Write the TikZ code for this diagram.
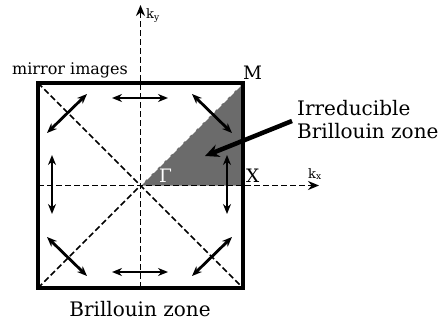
\documentclass[tikz,border=0pt]{standalone}
\usepackage{fontspec}
\setmainfont{DejaVu Serif}
\usetikzlibrary{arrows.meta}
\definecolor{ibz}{RGB}{107,107,107}
\begin{document}
\begin{tikzpicture}[x=1pt,y=-1pt,
  axis/.style={line width=1.8pt, dash pattern=on 6pt off 3pt},
  diag/.style={line width=1.6pt, dash pattern=on 6pt off 3pt},
  dbl/.style={{Stealth[length=10pt,width=8pt]}-{Stealth[length=10pt,width=8pt]}, line width=2.8pt},
  callout/.style={line width=4.5pt, -{Stealth[length=14pt,width=13pt]}},
  lbl/.style={inner sep=0pt, font=\fontsize{16}{19}\selectfont},
  big/.style={inner sep=0pt, font=\fontsize{20}{23}\selectfont},
  sub/.style={inner sep=0pt, font=\fontsize{13}{15}\selectfont}]
\useasboundingbox (0,0) rectangle (438,323);
% corners and points
\coordinate (BL) at (38,288);
\coordinate (BR) at (243,288);
\coordinate (TR) at (243,83);
\coordinate (TL) at (38,83);
\coordinate (G) at (140.5,185.5);
\coordinate (X) at (243,185.5);
\coordinate (M) at (243,83);
\coordinate (kxs) at (38,185.5);
\coordinate (kxe) at (319,185.5);
\coordinate (kys) at (140.5,288);
\coordinate (kye) at (140.5,5);
% irreducible zone
\fill[ibz] (G) -- (X) -- (M) -- cycle;
% diagonals
\draw[diag] (TL) -- (BR);
\draw[diag] (BL) -- (G);
\draw[diag, white, line width=1.2pt] (G) -- (M);
% axes
\draw[axis, -{Stealth[length=11pt,width=9pt]}] (kxs) -- (kxe);
\draw[axis, -{Stealth[length=11pt,width=9pt]}] (kys) -- (kye);
% border
\draw[line width=4pt] (BL) rectangle (TR);
% mirror arrows
\coordinate (a1) at (112,98); \coordinate (a2) at (168,98);
\coordinate (b1) at (112,272); \coordinate (b2) at (168,272);
\coordinate (c1) at (52,155); \coordinate (c2) at (52,214);
\coordinate (d1) at (227,155); \coordinate (d2) at (227,214);
\coordinate (e1) at (47,133); \coordinate (e2) at (87,94);
\coordinate (f1) at (192,94); \coordinate (f2) at (232,133);
\coordinate (g1) at (47,237); \coordinate (g2) at (87,276);
\coordinate (h1) at (192,276); \coordinate (h2) at (232,237);
\draw[dbl] (a1) -- (a2);
\draw[dbl] (b1) -- (b2);
\draw[dbl] (c1) -- (c2);
\draw[dbl] (d1) -- (d2);
\draw[dbl] (e1) -- (e2);
\draw[dbl] (f1) -- (f2);
\draw[dbl] (g1) -- (g2);
\draw[dbl] (h1) -- (h2);
% labels
\node[lbl, anchor=base west] (mir) at (12,75) {mirror images};
\node[big, anchor=base west, font=\fontsize{18.5}{22}\selectfont] (Ml) at (243,80) {M};
\node[big, anchor=base west, font=\fontsize{18.5}{22}\selectfont] (Xl) at (246,182) {X};
\node[big, anchor=base west, white, font=\fontsize{18.5}{22}\selectfont] (Gl) at (159,182) {Γ};
\node[sub, anchor=base west] (kx) at (308,178) {k$_{\mathrm{x}}$};
\node[sub, anchor=base west] (ky) at (146,19) {k$_{\mathrm{y}}$};
\node[big, anchor=north west, align=left] (irr) at (297,100) {Irreducible\\Brillouin zone};
\node[big, anchor=base] (bz) at (140,316) {Brillouin zone};
% callout
\coordinate (cs) at (292,121);
\coordinate (ce) at (205,156);
\draw[callout] (cs) -- (ce);
\end{tikzpicture}
\end{document}
